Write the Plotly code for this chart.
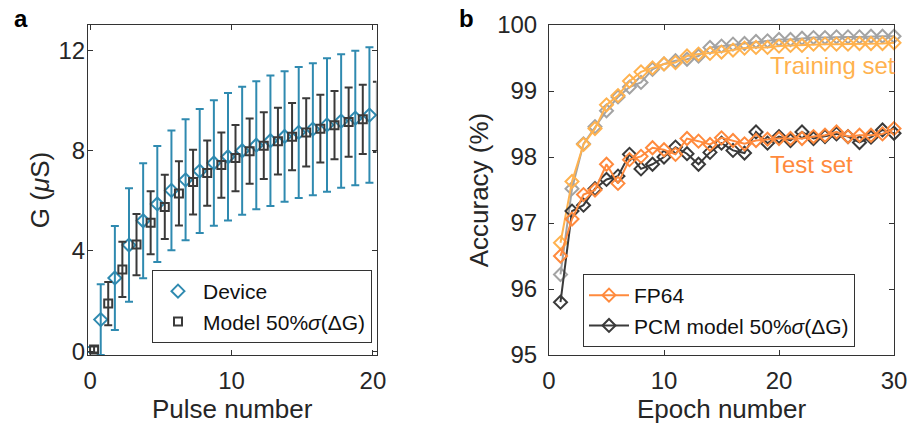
import plotly.graph_objects as go

# ---------------- data ----------------
pulses = list(range(21))
device_mean = [0.07, 1.26, 2.92, 4.23, 5.20, 5.87, 6.41, 6.83, 7.18, 7.50, 7.75,
               7.99, 8.21, 8.39, 8.56, 8.72, 8.85, 9.02, 9.17, 9.29, 9.41]
device_std = [0.10, 1.41, 2.07, 2.26, 2.29, 2.31, 2.39, 2.41, 2.47, 2.50, 2.54,
              2.55, 2.55, 2.60, 2.60, 2.61, 2.63, 2.66, 2.66, 2.68, 2.70]
model_mean = [0.07, 1.90, 3.26, 4.25, 5.12, 5.75, 6.29, 6.74, 7.10, 7.42, 7.70,
              7.97, 8.19, 8.37, 8.55, 8.72, 8.87, 9.01, 9.13, 9.24, 9.34]
model_std = [0.12, 0.86, 1.10, 1.22, 1.26, 1.28, 1.28, 1.29, 1.30, 1.30, 1.32,
             1.30, 1.33, 1.33, 1.34, 1.36, 1.35, 1.36, 1.38, 1.38, 1.40]

epochs = list(range(1, 31))
fp64_train = [96.70, 97.63, 98.19, 98.43, 98.79, 98.93, 99.15, 99.29, 99.35, 99.41,
              99.43, 99.53, 99.56, 99.57, 99.59, 99.62, 99.65, 99.66, 99.66, 99.68,
              99.69, 99.69, 99.71, 99.71, 99.71, 99.71, 99.72, 99.72, 99.72, 99.73]
pcm_train = [96.22, 97.52, 98.20, 98.46, 98.70, 98.91, 99.06, 99.13, 99.33, 99.41,
             99.46, 99.48, 99.53, 99.66, 99.68, 99.71, 99.72, 99.75, 99.76, 99.78,
             99.78, 99.80, 99.81, 99.81, 99.82, 99.82, 99.82, 99.83, 99.83, 99.83]
fp64_test = [96.50, 97.06, 97.43, 97.50, 97.89, 97.60, 97.96, 98.01, 98.14, 98.11,
             98.04, 98.28, 98.24, 98.19, 98.29, 98.25, 98.20, 98.25, 98.27, 98.28,
             98.28, 98.28, 98.31, 98.33, 98.38, 98.31, 98.33, 98.33, 98.35, 98.43]
pcm_test = [95.80, 97.18, 97.27, 97.52, 97.66, 97.71, 98.04, 97.82, 97.89, 98.00,
            98.15, 98.05, 97.89, 98.07, 98.21, 98.10, 98.06, 98.38, 98.21, 98.31,
            98.25, 98.38, 98.28, 98.31, 98.35, 98.31, 98.22, 98.30, 98.41, 98.36]

a_xticks = [0, 10, 20]
a_yticks = [0, 4, 8, 12]
b_xticks = [0, 10, 20, 30]
b_yticks = [95, 96, 97, 98, 99, 100]

# ---------------- style ----------------
FONT = "Liberation Sans, Arial, Helvetica, sans-serif"
TXT = "#262626"
AX = "#333333"
C_DEV = "#2f8ab0"
C_MOD = "#3a3a3a"
C_FP_TEST = "#ff8a3d"
C_FP_TRAIN = "#ffb24f"
C_PCM_TRAIN = "#a3a3a3"
C_PCM_TEST = "#3a3a3a"
DEV_OFF = -0.25
MOD_OFF = 0.28

fig = go.Figure()

# Panel a
fig.add_trace(go.Scatter(
    x=[p + DEV_OFF for p in pulses], y=device_mean, mode="markers", name="Device",
    marker=dict(symbol="diamond-open", size=10, color=C_DEV, line=dict(width=2, color=C_DEV)),
    error_y=dict(type="data", array=device_std, visible=True, color=C_DEV, thickness=2, width=4),
    xaxis="x", yaxis="y", legend="legend", cliponaxis=False))
fig.add_trace(go.Scatter(
    x=[p + MOD_OFF for p in pulses], y=model_mean, mode="markers",
    name="Model 50%<i>σ</i>(ΔG)",
    marker=dict(symbol="square-open", size=8, color=C_MOD, line=dict(width=2, color=C_MOD)),
    error_y=dict(type="data", array=model_std, visible=True, color=C_MOD, thickness=2, width=4),
    xaxis="x", yaxis="y", legend="legend", cliponaxis=False))

# Panel b
def line_trace(y, color, name, show, rank):
    return go.Scatter(
        x=epochs, y=y, mode="lines+markers", name=name, showlegend=show, legendrank=rank,
        line=dict(color=color, width=2),
        marker=dict(symbol="diamond-open", size=10, color=color, line=dict(width=2, color=color)),
        xaxis="x2", yaxis="y2", legend="legend2", cliponaxis=False)

fig.add_trace(line_trace(pcm_train, C_PCM_TRAIN, "PCM train", False, 3))
fig.add_trace(line_trace(fp64_train, C_FP_TRAIN, "FP64 train", False, 4))
fig.add_trace(line_trace(pcm_test, C_PCM_TEST, "PCM model 50%<i>σ</i>(ΔG)", True, 2))
fig.add_trace(line_trace(fp64_test, C_FP_TEST, "FP64", True, 1))

axis_common = dict(showline=True, linecolor=AX, linewidth=1, mirror="ticks", ticks="inside",
                   ticklen=5, tickwidth=1, tickcolor=AX, showgrid=False, zeroline=False,
                   automargin=False,
                   tickfont=dict(size=24, color=TXT, family=FONT))
TFONT = dict(size=26, color=TXT, family=FONT)
LFONT = dict(size=21, color="#111111", family=FONT)

fig.update_layout(
    width=910, height=430,
    margin=dict(l=0, r=0, t=0, b=0, pad=0, autoexpand=False),
    paper_bgcolor="white", plot_bgcolor="white",
    font=dict(family=FONT, color=TXT),
    xaxis=dict(domain=[88 / 910, 376.5 / 910], range=[-0.15, 20.25], tickvals=a_xticks,
               title=dict(text="Pulse number", font=TFONT, standoff=6),
               anchor="y", ticklabelstandoff=4, **axis_common),
    yaxis=dict(domain=[1 - 355 / 430, 1 - 25 / 430], range=[-0.15, 13.0], tickvals=a_yticks,
               title=dict(text="G (<i>μ</i>S)", font=TFONT, standoff=1),
               anchor="x", ticklabelstandoff=-3, **axis_common),
    xaxis2=dict(domain=[549 / 910, 894 / 910], range=[0, 30], tickvals=b_xticks,
                title=dict(text="Epoch number", font=TFONT, standoff=6),
                anchor="y2", ticklabelstandoff=4, **axis_common),
    yaxis2=dict(domain=[1 - 355 / 430, 1 - 25 / 430], range=[95, 100], tickvals=b_yticks,
                title=dict(text="Accuracy (%)", font=TFONT, standoff=1),
                anchor="x2", ticklabelstandoff=6, **axis_common),
    legend=dict(x=372 / 910, y=1 - 343 / 430, xanchor="right", yanchor="bottom",
                bgcolor="white", bordercolor=AX, borderwidth=1, itemwidth=40,
                font=LFONT, tracegroupgap=0),
    legend2=dict(x=583 / 910, y=1 - 347 / 430, xanchor="left", yanchor="bottom",
                 bgcolor="white", bordercolor=AX, borderwidth=1, itemwidth=40,
                 font=LFONT, tracegroupgap=0),
    annotations=[
        dict(text="Training set", x=19.0, y=99.38, xref="x2", yref="y2", xanchor="left",
             yanchor="middle", showarrow=False, font=dict(size=24, color=C_FP_TRAIN, family=FONT)),
        dict(text="Test set", x=19.0, y=97.88, xref="x2", yref="y2", xanchor="left",
             yanchor="middle", showarrow=False, font=dict(size=24, color=C_FP_TEST, family=FONT)),
        dict(text="<b>a</b>", x=12 / 910, y=1 - 3 / 430, xref="paper", yref="paper",
             xanchor="left", yanchor="top", showarrow=False, font=dict(size=24, color="#000", family=FONT)),
        dict(text="<b>b</b>", x=457 / 910, y=1 - 3 / 430, xref="paper", yref="paper",
             xanchor="left", yanchor="top", showarrow=False, font=dict(size=24, color="#000", family=FONT)),
    ],
)

fig.write_html("out.html", config={"displayModeBar": False},
               post_script="document.body.style.margin='0';document.body.style.overflow='hidden';")
